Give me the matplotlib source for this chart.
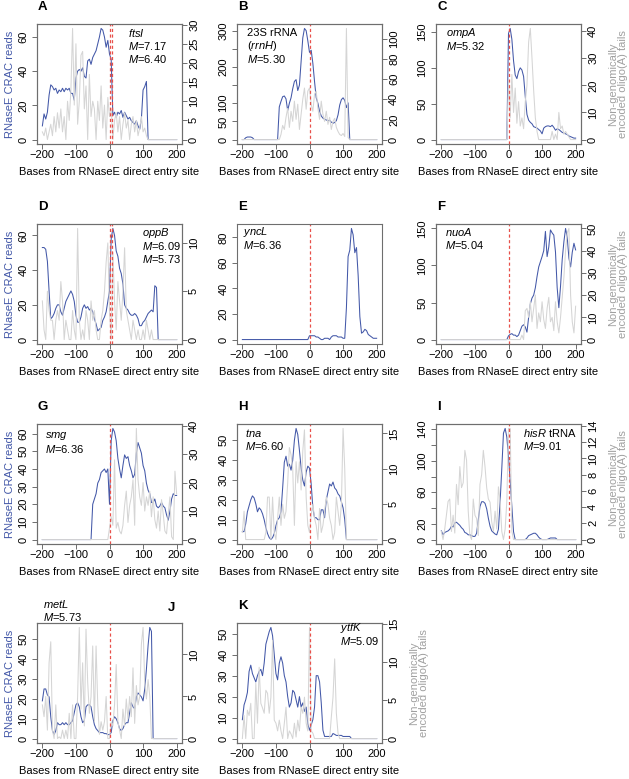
import numpy as np
import matplotlib
matplotlib.use('Agg')
import matplotlib.pyplot as plt

plt.rcParams['font.family'] = ['Liberation Sans', 'DejaVu Sans']
plt.rcParams['mathtext.fontset'] = 'custom'
plt.rcParams['mathtext.rm'] = 'Liberation Sans'
plt.rcParams['mathtext.it'] = 'Liberation Sans:italic'

BLUE = '#4358a8'
GREY = '#d5d5d5'
RED = '#e8504a'
BOX = '#6e6e6e'

# bases from the RNaseE entry site, every 5 nt
positions = np.arange(-200, 201, 5)
Z10 = [0] * 10

# CRAC reads (blue, left axis) and oligo(A) tails (grey, right axis)
A_blue = [8, 15, 12, 16, 26, 32, 31, 29, 30, 27,
          29, 28, 30, 28, 30, 29, 30, 27, 27, 23,
          36, 40, 41, 40, 42, 37, 36, 46, 47, 44,
          48, 50, 52, 56, 60, 65, 64, 60, 54, 58,
          50, 47, 14, 16, 13, 16, 15, 17, 13, 16,
          14, 12, 13, 11, 10, 9, 11, 8, 6, 12,
          29, 31, 34, 0, 0, 0, 0, 0, 0, 0] + Z10 + [0]
A_grey = [2, 1, 3, 0, 2, 4, 1, 6, 2, 7,
          3, 8, 2, 6, 0, 10, 5, 13, 29, 9,
          25, 4, 10, 22, 23, 8, 14, 0, 17, 6,
          10, 8, 0, 10, 5, 14, 3, 9, 0, 11,
          6, 8, 0, 5, 7, 2, 6, 0, 4, 7,
          3, 5, 0, 4, 6, 2, 5, 1, 3, 6,
          2, 3, 1, 0, 0, 0, 0, 0, 0, 0] + Z10 + [0]

B_blue = [0, 0, 5, 7, 7, 7, 5, 0, 0, 0] + Z10 + [
          0, 0, 90, 105, 118, 120, 112, 80, 100, 115,
          140, 160, 165, 135, 150, 215, 280, 306, 300, 272,
          240, 246, 210, 160, 115, 100, 78, 65, 59, 56,
          54, 52, 53, 48, 45, 47, 52, 68, 95, 110,
          115, 108, 88, 101, 0, 0, 0, 0, 0, 0] + Z10 + [0]
B_grey = Z10 + Z10 + [
          0, 0, 0, 5, 14, 10, 22, 31, 12, 28,
          18, 38, 20, 35, 10, 25, 40, 51, 30, 48,
          51, 35, 28, 45, 48, 31, 20, 38, 25, 18,
          28, 15, 22, 10, 18, 21, 12, 8, 5, 4,
          6, 3, 110, 2, 0, 0, 0, 0, 0, 0] + Z10 + [0]

C_blue = Z10 * 4 + [
          148, 155, 140, 110, 90, 85, 95, 100, 97, 88,
          60, 35, 27, 24, 22, 18, 17, 16, 14, 12,
          8, 16, 18, 19, 19, 18, 20, 17, 13, 15,
          14, 12, 10, 9, 8, 7, 5, 4, 3, 2, 2]
C_grey = Z10 * 4 + [
          22, 8, 24, 10, 19, 6, 14, 5, 8, 4,
          14, 20, 36, 41, 30, 18, 8, 3, 0, 0,
          0, 0, 0, 0, 0, 0, 3, 0, 2, 0,
          10, 4, 5, 2, 3, 2, 1, 0, 0, 0, 0]

D_blue = [53, 53, 52, 45, 28, 12, 13, 15, 18, 20,
          20, 16, 14, 18, 22, 24, 26, 28, 26, 22,
          14, 10, 10, 13, 18, 20, 18, 19, 17, 18,
          16, 12, 9, 5, 6, 7, 11, 13, 16, 22,
          28, 58, 64, 60, 51, 48, 41, 38, 32, 20,
          18, 17, 15, 14, 14, 15, 14, 12, 8, 8,
          10, 11, 13, 15, 16, 17, 16, 31, 30, 0] + Z10 + [0]
D_grey = [4, 1, 0, 5, 3, 2, 2, 0, 2, 3,
          2, 6, 4, 0, 2, 1, 0, 0, 3, 1,
          0, 11.5, 2, 0, 1, 0, 3, 2, 0, 4,
          2, 3, 1, 0, 0, 2, 3, 5, 8, 10,
          3, 0, 9, 4, 1, 6, 4, 2, 5, 9.5,
          3, 2, 1, 0, 2, 1, 0, 1, 0, 0,
          1, 0, 2, 1, 0, 1, 0, 0, 0, 0] + Z10 + [0]

E_blue = Z10 * 4 + [
          3, 3, 3, 3, 2, 2, 1, 0, 0, 1,
          1, 1, 0, 2, 3, 3, 3, 2, 2, 2,
          1, 1, 25, 65, 70, 87, 82, 68, 72, 50,
          18, 5, 6, 8, 7, 4, 3, 2, 1, 1, 1]

F_blue = Z10 * 4 + [
          5, 7, 8, 6, 6, 4, 6, 12, 18, 20,
          17, 10, 30, 48, 56, 60, 70, 85, 98, 105,
          112, 120, 146, 112, 125, 148, 144, 141, 118, 70,
          43, 72, 108, 132, 150, 138, 110, 98, 118, 130, 121]
F_grey = [0] * 48 + [
          2, 0, 13, 14, 10, 17, 8, 14, 20, 5,
          12, 8, 17, 9, 5, 14, 19, 8, 10, 4,
          17, 8, 3, 10, 19, 28, 40, 48, 50, 20,
          8, 3, 15]

G_blue = [0] * 30 + [
          20, 23, 26, 32, 34, 38, 39, 40, 38, 40,
          20, 56, 63, 61, 56, 46, 40, 35, 42, 48,
          46, 47, 42, 39, 35, 37, 49, 55, 52, 49,
          42, 39, 32, 28, 26, 21, 21, 23, 19, 18,
          19, 21, 19, 18, 14, 11, 16, 23, 26, 25, 25]
G_grey = Z10 * 4 + [
          4, 8, 5, 28, 4, 6, 3, 2, 5, 12,
          17, 6, 12, 15, 21, 5, 39, 21, 15, 12,
          20, 10, 15, 12, 17, 8, 15, 7, 4, 10,
          3, 14, 9, 3, 2, 9, 15, 1, 0, 24, 16]

H_blue = [4, 4, 8, 14, 17, 20, 22, 21, 18, 14,
          16, 15, 13, 10, 6, 3, 1, 0, 1, 3,
          7, 10, 11, 14, 26, 39, 42, 37, 38, 35,
          40, 50, 56, 53, 45, 36, 30, 27, 34, 37,
          36, 28, 16, 11, 11, 10, 10, 15, 15, 11,
          20, 24, 28, 27, 29, 26, 25, 23, 22, 19,
          16, 10, 0, 0, 0, 0, 0, 0, 0, 0] + Z10 + [0]
H_grey = [1, 4, 0, 0, 0, 0, 0, 0, 0, 0,
          0, 0, 0, 0, 1, 6, 6, 0, 6, 1,
          0, 3, 6, 2, 5, 3, 4, 8, 13, 12,
          10, 2, 11, 8, 11, 7, 12.5, 15.5, 6, 2,
          1, 3.5, 5, 3, 2, 0, 4.4, 1, 2, 4,
          6, 5, 3, 2, 0, 1, 6, 4, 2, 5,
          15.7, 10, 0, 0, 0, 0, 0, 0, 0, 0] + Z10 + [0]

I_blue = [11, 6, 9, 10, 11, 13, 17, 16, 21, 22,
          20, 18, 15, 13, 9, 8, 6, 6, 5, 4,
          4, 8, 25, 42, 48, 48, 46, 39, 27, 17,
          11, 9, 7, 6, 13, 48, 90, 135, 141, 130,
          105, 75, 42, 10, 0, 0, 0, 0, 0, 0,
          0, 2, 5, 6, 7, 8, 8, 6, 3, 1,
          0, 0, 0, 0, 1, 2, 2, 2, 2, 0] + Z10 + [0]
I_grey = [1, 0, 1.3, 3, 4.7, 5, 1, 3, 0.8, 6.8,
          4.3, 9, 6.4, 7, 11, 9.8, 3.5, 0.5, 0, 5,
          3, 2.6, 0.5, 6.8, 8, 11, 9, 6.4, 5, 4.6,
          2.2, 1, 3.5, 1.3, 6.5, 4.7, 1, 0, 1.3, 4.7,
          13.7, 13.7, 1, 0, 0, 0, 0, 0, 0, 0] + Z10 * 3 + [0]

J_blue = [19, 25, 25, 22, 21, 11, 4, 2, 4, 8,
          7, 7, 8, 7, 8, 7, 7, 8, 9, 13,
          17, 18, 16, 11, 8, 9, 16, 17, 17, 16,
          11, 7, 5, 4, 3, 3, 3, 2.5, 2.5, 2,
          2, 3, 9, 11, 10, 8, 5, 4, 5, 7,
          8, 8, 13, 18, 16, 15, 21, 23, 22, 21,
          19, 25, 35, 47, 56, 54, 0, 0, 0, 0] + Z10 + [0]
J_grey = [4, 2.6, 5, 1, 9, 11.5, 1, 0, 4, 0,
          0.2, 0, 1, 0, 1, 0, 3, 0, 4, 0,
          0, 5, 13.2, 3.5, 9, 1.5, 13, 6.7, 3, 5,
          11, 2, 11, 4, 0.5, 2, 1, 2, 5, 0,
          0, 2, 1.5, 4, 8.8, 2, 1, 0, 3.5, 1.5,
          4.7, 2.3, 5, 2.6, 8.4, 1.8, 6.3, 4, 5, 11.2,
          13.2, 6.7, 4.7, 7, 5, 0, 0, 0, 0, 0] + Z10 + [0]

K_blue = [9, 16, 18.5, 22, 32, 35, 31, 29, 27, 30,
          32, 33, 30, 36, 45, 48, 51, 53, 49, 40,
          31, 28, 36, 39, 36, 30, 27, 20, 15, 17,
          23, 22, 18.5, 15, 20, 15, 17, 13, 15, 7,
          4, 6.5, 9, 15, 30, 30, 27, 17, 4, 1,
          1, 1, 1, 1, 2.4, 2, 1.5, 1.5, 1.5, 1.5,
          1, 1, 1, 1, 1, 0, 0, 0, 0, 0] + Z10 + [0]
K_grey = [0, 3, 0, 3.7, 3, 4.6, 0, 0, 7.2, 2,
          9.3, 4.6, 4, 3.3, 6.3, 5.9, 3.3, 5.4, 12.8, 2.4,
          2, 1, 2.4, 1, 0, 2, 4.1, 0, 1, 0.6,
          0, 2, 0.2, 2.4, 1, 4.1, 3.3, 5.4, 2, 1,
          14.5, 1, 0.7, 0, 0, 0, 0, 0, 0, 0,
          0, 0, 0, 2.8, 5.4, 10.4, 3.3, 0.7, 0, 0] + Z10 * 2 + [0]

W, H = 629, 779
COLS = [37, 237, 436]
ROWS = [24, 224, 424, 623]
BW, BH = 145, 120

# letter, col, row, blue, grey, left step, right step, hidden left labels,
# cut sites, text (x px, y px, lines), left label, right label, letter pos
panels = [
    ('A', 0, 0, A_blue, A_grey, 20, 5, [], [0, 8], (128, 33, ['$ftsI$', '$M$=7.17', '$M$=6.40']), True, False, None),
    ('B', 1, 0, B_blue, B_grey, 50, 20, [150, 250], [0], (247, 33, ['23S rRNA', '($rrnH$)', '$M$=5.30']), False, False, None),
    ('C', 2, 0, C_blue, C_grey, 50, 10, [], [0], (446, 33, ['$ompA$', '$M$=5.32']), False, True, None),
    ('D', 0, 1, D_blue, D_grey, 20, 5, [], [0, 7], (142, 233, ['$oppB$', '$M$=6.09', '$M$=5.73']), True, False, None),
    ('E', 1, 1, E_blue, None, 20, None, [], [0], (243, 232, ['$yncL$', '$M$=6.36']), False, False, None),
    ('F', 2, 1, F_blue, F_grey, 50, 10, [], [0], (445, 232, ['$nuoA$', '$M$=5.04']), False, True, None),
    ('G', 0, 2, G_blue, G_grey, 10, 10, [], [0], (45, 436, ['$smg$', '$M$=6.36']), True, False, None),
    ('H', 1, 2, H_blue, H_grey, 10, 5, [], [0], (245, 433, ['$tna$', '$M$=6.60']), False, False, None),
    ('I', 2, 2, I_blue, I_grey, 20, 2, [40, 80, 120], [0], (523, 433, ['$hisR$ tRNA', '$M$=9.01']), False, True, None),
    ('J', 0, 3, J_blue, J_grey, 10, 5, [], [0], (43, 604, ['$metL$', '$M$=5.73']), True, False, (168, 608)),
    ('K', 1, 3, K_blue, K_grey, 10, 5, [], [0], (340, 628, ['$ytfK$', '$M$=5.09']), False, True, None),
]

fig = plt.figure(figsize=(W / 100, H / 100), dpi=100)


def fx(x):
    return x / W


def fy(y):
    return 1 - y / H


def style(a):
    for s in a.spines.values():
        s.set_color(BOX)
        s.set_linewidth(0.8)
    a.tick_params(direction='out', length=3.6, width=0.7, color=BOX, labelsize=8)


for (letter, c, r, blue, grey, lstep, rstep, hide, cuts, txt, lab_l, lab_r, lpos) in panels:
    x0, y0 = COLS[c], ROWS[r]
    ax = fig.add_axes([fx(x0), fy(y0 + BH), BW / W, BH / H])
    style(ax)
    ax.plot(positions, blue, color=BLUE, lw=0.75)
    ax.set_xlim(-216, 216)
    m = max(blue)
    ax.set_ylim(-0.04 * m, 1.04 * m)
    ax.set_xticks([-200, -100, 0, 100, 200])
    ax.tick_params(axis='x', pad=1)
    ax.tick_params(axis='y', pad=2.5)
    yt = np.arange(0, 1.04 * m + 1e-9, lstep)
    ax.set_yticks(yt, labels=['' if v in hide else '%d' % v for v in yt],
                  rotation=90, va='center')
    top = ax
    if grey is not None:
        ax2 = ax.twinx()
        style(ax2)
        ax2.plot(positions, grey, color=GREY, lw=0.75)
        g = max(grey)
        ax2.set_ylim(-0.04 * g, 1.04 * g)
        rt = np.arange(0, 1.04 * g + 1e-9, rstep)
        ax2.set_yticks(rt, labels=['%d' % v for v in rt], rotation=90, va='center')
        ax2.tick_params(axis='y', pad=1.5)
        top = ax2
    for cut in cuts:
        top.axvline(cut, color=RED, lw=0.9, ls=(0, (2.5, 2)))

    tx, ty, lines = txt
    for i, s in enumerate(lines):
        fig.text(fx(tx), fy(ty + i * 13), s, fontsize=8, ha='left', va='center')

    lx, ly = lpos if lpos else (x0 + 1, y0 - 17)
    fig.text(fx(lx), fy(ly), letter, fontsize=9.5, fontweight='bold', ha='left', va='center')

    fig.text(fx(x0 + BW / 2), fy(y0 + BH + 28), 'Bases from RNaseE direct entry site',
             fontsize=8, ha='center', va='center')
    if lab_l:
        fig.text(fx(10), fy(y0 + BH / 2), 'RNaseE CRAC reads', color=BLUE,
                 fontsize=8, rotation=90, ha='center', va='center')
    if lab_r:
        fig.text(fx(x0 + BW + 37), fy(y0 + BH / 2), 'Non-genomically\nencoded oligo(A) tails',
                 color='#a0a0a0', fontsize=8, rotation=90, ha='center', va='center',
                 multialignment='center', linespacing=1.05)

fig.savefig('out.png', dpi=100)
